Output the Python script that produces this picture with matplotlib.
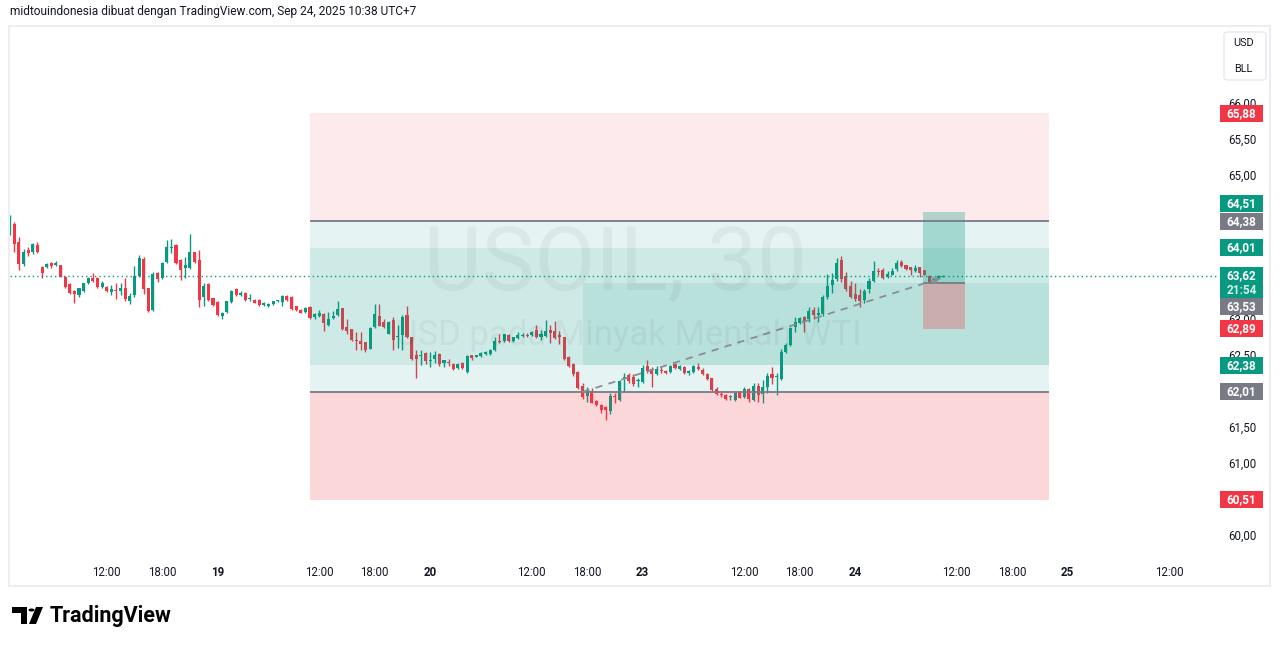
import numpy as np
import matplotlib.pyplot as plt
import matplotlib.transforms as mtransforms
from matplotlib.patches import Rectangle, Polygon, Circle, FancyBboxPatch

plt.rcParams['font.family'] = ['Roboto', 'DejaVu Sans']

# USOIL 30 menit (harga)
opens = [64.23, 64.34, 64.09, 63.79, 63.98, 63.95, 64.05, 63.75, 63.75, 63.80,
         63.77, 63.77, 63.61, 63.51, 63.41, 63.36, 63.41, 63.52, 63.59, 63.59,
         63.47, 63.47, 63.40, 63.43, 63.41, 63.45, 63.27, 63.36, 63.62, 63.86,
         63.45, 63.15, 63.66, 63.59, 63.81, 64.01, 64.05, 63.84, 63.73, 63.73,
         63.95, 63.84, 63.33, 63.51, 63.31, 63.26, 63.06, 63.12, 63.26, 63.44,
         63.36, 63.39, 63.30, 63.29, 63.29, 63.22, 63.20, 63.23, 63.27, 63.26,
         63.34, 63.33, 63.20, 63.15, 63.12, 63.19, 63.05, 63.07, 63.09, 62.94,
         63.04, 63.08, 63.17, 62.91, 62.88, 62.73, 62.72, 62.70, 62.61, 62.91,
         63.06, 62.98, 62.82, 63.01, 62.77, 62.80, 63.08, 62.77, 62.52, 62.51,
         62.55, 62.44, 62.47, 62.54, 62.41, 62.43, 62.40, 62.34, 62.41, 62.29,
         62.52, 62.50, 62.51, 62.54, 62.54, 62.59, 62.71, 62.72, 62.80, 62.72,
         62.76, 62.79, 62.80, 62.80, 62.87, 62.77, 62.79, 62.87, 62.86, 62.80,
         62.77, 62.50, 62.40, 62.29, 62.09, 61.96, 62.02, 61.89, 61.83, 61.80,
         61.75, 61.95, 61.90, 62.20, 62.24, 62.22, 62.16, 62.15, 62.37, 62.33,
         62.26, 62.32, 62.30, 62.29, 62.40, 62.33, 62.36, 62.28, 62.29, 62.36,
         62.31, 62.26, 62.20, 62.05, 61.98, 61.97, 61.94, 61.90, 62.01, 61.94,
         62.05, 61.90, 62.09, 61.98, 62.08, 62.26, 62.22, 62.19, 62.57, 62.66,
         62.91, 62.97, 63.05, 63.02, 63.15, 63.08, 63.09, 63.33, 63.50, 63.58,
         63.84, 63.62, 63.48, 63.37, 63.36, 63.29, 63.44, 63.55, 63.69, 63.70,
         63.60, 63.64, 63.72, 63.81, 63.77, 63.74, 63.69, 63.74, 63.70, 63.62,
         63.56, 63.59, 63.61]
highs = [64.47, 64.37, 64.16, 64.00, 64.02, 64.08, 64.09, 63.76, 63.80, 63.81,
         63.83, 63.78, 63.62, 63.52, 63.42, 63.46, 63.53, 63.60, 63.66, 63.60,
         63.55, 63.48, 63.49, 63.52, 63.52, 63.59, 63.38, 63.76, 63.91, 63.88,
         63.46, 63.67, 63.68, 63.81, 64.12, 64.13, 64.06, 63.85, 63.88, 64.20,
         63.96, 63.98, 63.52, 63.52, 63.32, 63.27, 63.12, 63.28, 63.42, 63.45,
         63.41, 63.40, 63.37, 63.30, 63.30, 63.26, 63.24, 63.28, 63.29, 63.36,
         63.35, 63.34, 63.21, 63.16, 63.19, 63.20, 63.10, 63.15, 63.10, 63.12,
         63.13, 63.27, 63.18, 63.02, 62.89, 62.84, 62.84, 62.71, 62.91, 63.23,
         63.23, 63.02, 62.99, 63.05, 62.94, 63.08, 63.20, 62.78, 62.59, 62.59,
         62.56, 62.57, 62.58, 62.55, 62.46, 62.47, 62.41, 62.41, 62.42, 62.52,
         62.53, 62.53, 62.56, 62.58, 62.60, 62.77, 62.81, 62.82, 62.81, 62.78,
         62.84, 62.83, 62.83, 62.86, 62.94, 62.87, 63.01, 62.94, 63.00, 62.86,
         62.78, 62.51, 62.41, 62.30, 62.13, 62.08, 62.07, 61.90, 61.84, 61.81,
         61.99, 61.99, 62.17, 62.27, 62.28, 62.26, 62.20, 62.38, 62.45, 62.35,
         62.37, 62.37, 62.31, 62.38, 62.41, 62.38, 62.37, 62.31, 62.38, 62.41,
         62.34, 62.27, 62.21, 62.08, 62.02, 61.98, 61.97, 62.01, 62.02, 62.08,
         62.06, 62.13, 62.13, 62.18, 62.27, 62.36, 62.27, 62.61, 62.69, 62.91,
         63.05, 63.05, 63.06, 63.19, 63.19, 63.19, 63.36, 63.65, 63.66, 63.87,
         63.90, 63.68, 63.55, 63.52, 63.44, 63.44, 63.59, 63.83, 63.73, 63.73,
         63.69, 63.73, 63.84, 63.84, 63.78, 63.75, 63.77, 63.75, 63.71, 63.63,
         63.59, 63.63, 63.64]
lows = [64.19, 63.95, 63.70, 63.76, 63.90, 63.93, 63.94, 63.59, 63.73, 63.73,
        63.76, 63.60, 63.46, 63.37, 63.25, 63.33, 63.40, 63.51, 63.54, 63.46,
        63.45, 63.40, 63.36, 63.30, 63.36, 63.27, 63.23, 63.33, 63.61, 63.37,
        63.12, 63.14, 63.54, 63.58, 63.80, 63.94, 63.79, 63.56, 63.59, 63.72,
        63.80, 63.19, 63.20, 63.28, 63.21, 63.07, 63.03, 63.11, 63.25, 63.34,
        63.34, 63.28, 63.28, 63.24, 63.21, 63.21, 63.19, 63.22, 63.26, 63.20,
        63.28, 63.15, 63.14, 63.10, 63.11, 63.02, 63.03, 63.05, 62.86, 62.93,
        63.02, 63.07, 62.87, 62.82, 62.72, 62.59, 62.59, 62.56, 62.60, 62.90,
        62.92, 62.90, 62.81, 62.59, 62.62, 62.59, 62.76, 62.45, 62.20, 62.39,
        62.40, 62.36, 62.41, 62.37, 62.36, 62.37, 62.32, 62.33, 62.33, 62.28,
        62.45, 62.49, 62.50, 62.52, 62.53, 62.58, 62.69, 62.71, 62.70, 62.71,
        62.75, 62.77, 62.77, 62.79, 62.76, 62.73, 62.78, 62.69, 62.75, 62.68,
        62.45, 62.36, 62.23, 62.05, 61.91, 61.87, 61.85, 61.82, 61.72, 61.62,
        61.70, 61.86, 61.89, 62.02, 62.13, 62.09, 62.08, 62.14, 62.28, 62.08,
        62.25, 62.27, 62.26, 62.28, 62.33, 62.32, 62.26, 62.25, 62.28, 62.32,
        62.25, 62.18, 62.03, 61.97, 61.94, 61.90, 61.90, 61.89, 61.92, 61.93,
        61.87, 61.89, 61.87, 61.86, 61.99, 62.12, 61.97, 62.18, 62.55, 62.65,
        62.84, 62.95, 62.84, 62.98, 63.02, 62.98, 63.06, 63.30, 63.38, 63.55,
        63.54, 63.41, 63.31, 63.28, 63.19, 63.25, 63.38, 63.54, 63.63, 63.58,
        63.59, 63.63, 63.69, 63.75, 63.71, 63.63, 63.68, 63.60, 63.63, 63.53,
        63.55, 63.58, 63.60]
closes = [64.43, 64.07, 63.79, 63.95, 63.94, 64.07, 63.95, 63.66, 63.79, 63.76,
          63.80, 63.61, 63.47, 63.38, 63.37, 63.45, 63.52, 63.59, 63.55, 63.47,
          63.52, 63.41, 63.44, 63.41, 63.45, 63.30, 63.34, 63.62, 63.87, 63.44,
          63.13, 63.65, 63.58, 63.80, 64.02, 64.02, 63.80, 63.70, 63.77, 63.95,
          63.81, 63.29, 63.48, 63.29, 63.22, 63.08, 63.11, 63.27, 63.41, 63.36,
          63.39, 63.29, 63.32, 63.25, 63.22, 63.25, 63.23, 63.27, 63.28, 63.34,
          63.29, 63.16, 63.15, 63.11, 63.18, 63.04, 63.09, 63.11, 62.97, 63.02,
          63.06, 63.16, 62.88, 62.86, 62.73, 62.72, 62.68, 62.59, 62.90, 63.09,
          62.93, 62.91, 62.98, 62.73, 62.79, 63.05, 62.77, 62.47, 62.47, 62.52,
          62.44, 62.45, 62.52, 62.40, 62.45, 62.41, 62.33, 62.40, 62.34, 62.51,
          62.48, 62.52, 62.55, 62.57, 62.59, 62.72, 62.70, 62.81, 62.72, 62.77,
          62.80, 62.80, 62.79, 62.84, 62.77, 62.82, 62.86, 62.83, 62.76, 62.77,
          62.47, 62.37, 62.26, 62.07, 61.94, 62.02, 61.86, 61.83, 61.76, 61.76,
          61.95, 61.94, 62.16, 62.22, 62.16, 62.12, 62.18, 62.34, 62.30, 62.26,
          62.33, 62.30, 62.27, 62.37, 62.34, 62.37, 62.27, 62.30, 62.37, 62.33,
          62.26, 62.19, 62.04, 61.98, 61.97, 61.91, 61.95, 62.00, 61.93, 62.05,
          61.91, 62.09, 61.97, 62.08, 62.23, 62.20, 62.23, 62.57, 62.66, 62.90,
          62.98, 63.04, 62.98, 63.13, 63.08, 63.11, 63.33, 63.48, 63.56, 63.80,
          63.58, 63.44, 63.33, 63.30, 63.27, 63.41, 63.55, 63.69, 63.67, 63.59,
          63.65, 63.69, 63.80, 63.76, 63.72, 63.70, 63.73, 63.66, 63.64, 63.54,
          63.58, 63.62, 63.62]

tick_pos = [21, 33, 45, 67, 79, 91, 113, 125, 137, 159, 171, 183, 205, 217, 229, 251]
tick_labels = ['12:00', '18:00', '19', '12:00', '18:00', '20', '12:00', '18:00', '23',
               '12:00', '18:00', '24', '12:00', '18:00', '25', '12:00']
day_labels = ['19', '20', '23', '24', '25']
price_ticks = [60.0, 60.5, 61.0, 61.5, 62.5, 63.0, 65.0, 65.5, 66.0]

last_price = 63.62
countdown = '21:54'

# posisi: (bar awal, bar akhir, entry, target, stop)
short_pos = (65, 225, 64.38, 62.38, 65.88)
long_pos = (65, 225, 62.01, 64.01, 60.51)
small_long = (197.7, 206.8, 63.53, 64.51, 62.89)
extra_zone = (124, 225, 62.38, 63.53)
trend = ([124, 202], [62.01, 63.60])

# label harga di sumbu kanan: (harga, teks, jenis, geser px)
tags = [(65.88, '65,88', 'stop', 0), (64.38, '64,38', 'entry', 0),
        (64.51, '64,51', 'target', -8), (64.01, '64,01', 'target', 0),
        (63.53, '63,53', 'entry', 24), (62.89, '62,89', 'stop', 0),
        (62.38, '62,38', 'target', 0), (62.01, '62,01', 'entry', 0),
        (60.51, '60,51', 'stop', 0)]

UP, DN, GRAY, TXT = '#089981', '#f23645', '#787b86', '#131722'
tag_col = {'stop': DN, 'target': UP, 'entry': GRAY}

W, H = 1281, 646
PPU = 72.0          # piksel per 1 USD
Y0 = 67.454         # harga di y=0 piksel
X0, DX = 9.7, 4.62  # piksel bar ke-0, jarak antar bar

fig = plt.figure(figsize=(W / 100, H / 100), dpi=100)
top_px, bot_px, left_px, right_px = 27, 556, 9.5, 1217
ax = fig.add_axes([left_px / W, 1 - bot_px / H, (right_px - left_px) / W, (bot_px - top_px) / H])
ax.set_xlim((left_px - X0) / DX, (right_px - X0) / DX)
ax.set_ylim(Y0 - bot_px / PPU, Y0 - top_px / PPU)
for s in ax.spines.values():
    s.set_visible(False)

# lilin
o, h, l, c = map(np.array, (opens, highs, lows, closes))
x = np.arange(len(o))
col = np.where(c >= o, UP, DN)
ax.vlines(x, l, h, colors=col, lw=1, zorder=3)
ax.bar(x, np.maximum(np.abs(c - o), 0.014), bottom=np.minimum(o, c), width=0.66,
       color=col, lw=0, zorder=3)


def zone(x0, x1, y0, y1, color, alpha, z=4):
    ax.add_patch(Rectangle((x0, min(y0, y1)), x1 - x0, abs(y1 - y0),
                           fc=color, alpha=alpha, lw=0, zorder=z))


def position(p, alpha, line_c=GRAY):
    x0, x1, entry, target, stop = p
    zone(x0, x1, entry, target, UP, alpha)
    zone(x0, x1, entry, stop, DN, alpha)
    ax.hlines(entry, x0, x1, color=line_c, lw=1.3, zorder=5)


position(short_pos, 0.10)
position(long_pos, 0.10)
zone(extra_zone[0], extra_zone[1], extra_zone[2], extra_zone[3], UP, 0.10)
zone(long_pos[0], long_pos[1], long_pos[2], long_pos[4], DN, 0.10)
position(small_long, 0.30)

# garis tren putus-putus dengan panah
ax.plot(trend[0], trend[1], color='#8a8d96', lw=1.3, ls=(0, (4, 3.5)), zorder=6)
ax.annotate('', xy=(trend[0][1], trend[1][1]), xytext=(trend[0][1] - 1.2, trend[1][1] - 0.025),
            arrowprops=dict(arrowstyle='->', color='#8a8d96', lw=1.2), zorder=6)

# garis harga terakhir
ax.axhline(last_price, color=UP, lw=1, ls=(0, (1, 2.2)), zorder=6)

# sumbu
ax.set_xticks(tick_pos)
ax.set_xticklabels(tick_labels)
for t in ax.get_xticklabels():
    t.set_fontsize(8.3)
    t.set_color(TXT)
    if t.get_text() in day_labels:
        t.set_fontweight('bold')
ax.tick_params(axis='x', length=0, pad=7.5)
ax.yaxis.tick_right()
ax.set_yticks(price_ticks)
ax.set_yticklabels([f'{p:.2f}'.replace('.', ',') for p in price_ticks])
ax.tick_params(axis='y', length=0, pad=8, labelsize=8.3, labelcolor=TXT)
up2 = mtransforms.ScaledTranslation(0, 2 / 100, fig.dpi_scale_trans)
for t in ax.get_yticklabels():
    t.set_transform(t.get_transform() + up2)

# label harga
tr = mtransforms.blended_transform_factory(fig.transFigure, ax.transData)
bx0, bw = 1220 / W, 43 / W
for price, text, kind, shift in tags:
    yc = price - shift / PPU
    ax.add_patch(Rectangle((bx0, yc - 8.5 / PPU), bw, 17 / PPU, transform=tr, fc=tag_col[kind],
                           lw=0, clip_on=False, zorder=20))
    ax.text(bx0 + bw / 2, yc, text, transform=tr, color='white', fontsize=8.5,
            fontweight='bold', ha='center', va='center', clip_on=False, zorder=21)
ax.add_patch(Rectangle((bx0, last_price - 22 / PPU), bw, 31 / PPU, transform=tr, fc=UP,
                       lw=0, clip_on=False, zorder=22))
ax.text(bx0 + bw / 2, last_price, f'{last_price:.2f}'.replace('.', ','), transform=tr,
        color='white', fontsize=8.5, fontweight='bold', ha='center', va='center', clip_on=False, zorder=23)
ax.text(bx0 + bw / 2, last_price - 14 / PPU, countdown, transform=tr, color='#d6f0eb',
        fontsize=8.5, fontweight='bold', ha='center', va='center', clip_on=False, zorder=23)

# watermark
fig.text(615 / W, 1 - 265 / H, 'USOIL, 30', fontsize=64, color=TXT, alpha=0.05,
         ha='center', va='center', zorder=0)
fig.text(628 / W, 1 - 335 / H, 'USD pada Minyak Mentah WTI', fontsize=25, color=TXT,
         alpha=0.05, ha='center', va='center', zorder=0)

# bingkai chart
fig.patches.append(Rectangle((8.5 / W, 1 - 586 / H), (1270 - 8.5) / W, (586 - 26) / H,
                             transform=fig.transFigure, fill=False, ec='#eceef2', lw=1.5))
fig.patches.append(FancyBboxPatch((1224 / W, 1 - 80 / H), 42 / W, 48 / H,
                                  boxstyle='round,pad=0,rounding_size=0.004',
                                  transform=fig.transFigure, fill=False, ec='#e6e8ee', lw=1))
fig.text(1244 / W, 1 - 43 / H, 'USD', fontsize=7.8, color=TXT, ha='center', va='center')
fig.text(1243 / W, 1 - 69 / H, 'BLL', fontsize=7.8, color=TXT, ha='center', va='center')

# judul
fig.text(10 / W, 1 - 12 / H, 'midtouindonesia dibuat dengan TradingView.com, Sep 24, 2025 10:38 UTC+7',
         fontsize=8.6, color=TXT, ha='left', va='center')

# logo TradingView
def fp(pts):
    return [(px / W, 1 - py / H) for px, py in pts]


fig.patches.append(Polygon(fp([(12, 607), (27, 607), (27, 624), (21, 624), (21, 613), (12, 613)]),
                           closed=True, transform=fig.transFigure, fc='black', lw=0))
fig.patches.append(Circle((31.5 / W, 1 - 610 / H), 3 / W, transform=fig.transFigure, fc='black', lw=0))
fig.patches.append(Polygon(fp([(36, 607), (43, 607), (36, 624), (29, 624)]),
                           closed=True, transform=fig.transFigure, fc='black', lw=0))
fig.text(50 / W, 1 - 616 / H, 'TradingView', fontsize=15.5, fontweight='bold', color='black',
         ha='left', va='center')

fig.savefig('out.png', dpi=100, facecolor='white')
